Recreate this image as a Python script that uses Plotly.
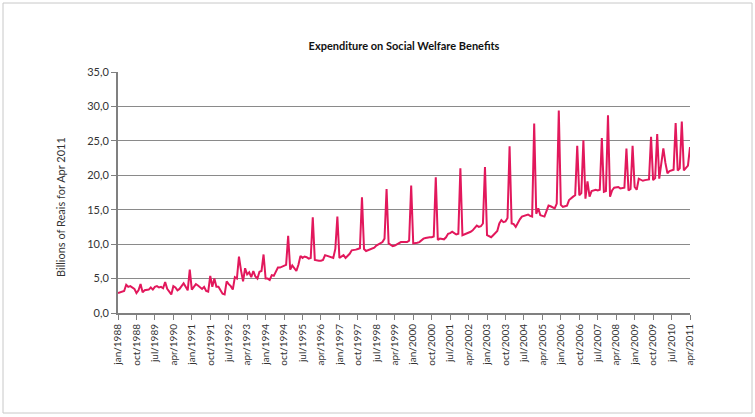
import plotly.graph_objects as go

month_names = ["jan", "feb", "mar", "apr", "may", "jun", "jul", "aug", "sep", "oct", "nov", "dec"]
years = list(range(1988, 2012))

v1988 = [2.9, 3.0, 3.1, 3.2, 4.1, 3.8, 3.9, 3.7, 3.5, 2.9, 3.3, 4.2]
v1989 = [3.0, 3.3, 3.4, 3.4, 3.7, 3.4, 3.8, 3.9, 3.7, 3.8, 3.6, 4.5]
v1990 = [3.5, 3.0, 2.7, 3.9, 3.7, 3.3, 3.5, 3.9, 4.3, 3.8, 3.3, 6.3]
v1991 = [3.4, 3.8, 4.2, 4.0, 3.8, 3.5, 3.8, 3.2, 3.1, 5.4, 3.8, 5.0]
v1992 = [3.8, 3.8, 3.3, 2.8, 2.7, 4.6, 4.2, 3.9, 3.4, 5.2, 5.0, 8.2]
v1993 = [6.2, 4.6, 6.5, 5.6, 5.9, 5.2, 6.1, 5.3, 5.0, 6.0, 6.1, 8.5]
v1994 = [5.0, 5.0, 4.8, 5.5, 5.4, 6.0, 6.6, 6.6, 6.7, 6.9, 7.0, 11.2]
v1995 = [6.3, 6.9, 6.5, 6.1, 7.0, 8.3, 8.0, 8.2, 8.1, 7.9, 8.0, 13.9]
v1996 = [7.7, 7.6, 7.6, 7.6, 7.7, 8.4, 8.3, 8.1, 8.0, 8.0, 9.3, 14.0]
v1997 = [8.0, 8.2, 8.4, 8.0, 8.3, 8.6, 9.1, 9.1, 9.2, 9.3, 9.4, 16.8]
v1998 = [9.3, 9.0, 9.1, 9.2, 9.3, 9.5, 9.8, 10.0, 10.2, 10.3, 10.8, 18.0]
v1999 = [10.1, 9.9, 9.7, 9.8, 10.0, 10.1, 10.3, 10.3, 10.3, 10.3, 10.5, 18.5]
v2000 = [10.1, 10.1, 10.2, 10.3, 10.6, 10.8, 10.9, 11.0, 11.0, 11.0, 11.1, 19.7]
v2001 = [10.6, 10.8, 10.8, 10.7, 11.0, 11.5, 11.6, 11.8, 11.6, 11.4, 11.5, 21.0]
v2002 = [11.3, 11.4, 11.5, 11.6, 11.8, 12.0, 12.4, 12.7, 12.5, 12.6, 13.0, 21.2]
v2003 = [11.3, 11.2, 11.0, 11.3, 11.6, 11.9, 13.0, 13.5, 13.2, 13.3, 13.8, 24.2]
v2004 = [13.0, 12.9, 12.5, 13.1, 13.6, 14.0, 14.1, 14.2, 14.3, 14.1, 14.0, 27.5]
v2005 = [14.4, 15.2, 14.2, 14.1, 14.0, 14.8, 15.6, 15.5, 15.4, 15.2, 15.9, 29.4]
v2006 = [15.7, 15.4, 15.5, 15.6, 16.4, 16.7, 16.9, 17.1, 24.3, 17.1, 17.4, 25.1]
v2007 = [16.6, 19.1, 16.9, 17.7, 17.8, 17.9, 17.8, 17.9, 25.4, 17.6, 17.7, 28.7]
v2008 = [16.9, 17.8, 18.2, 18.2, 18.3, 18.1, 18.1, 18.2, 23.9, 17.8, 18.0, 24.3]
v2009 = [18.3, 17.9, 19.5, 19.3, 19.2, 19.3, 19.3, 19.4, 25.6, 19.3, 19.6, 26.0]
v2010 = [19.5, 21.5, 23.9, 21.8, 20.3, 20.6, 20.7, 20.8, 27.6, 20.7, 21.0, 27.8]
v2011 = [20.7, 21.0, 21.4, 24.1]

values = (v1988 + v1989 + v1990 + v1991 + v1992 + v1993 + v1994 + v1995 + v1996
          + v1997 + v1998 + v1999 + v2000 + v2001 + v2002 + v2003 + v2004 + v2005
          + v2006 + v2007 + v2008 + v2009 + v2010 + v2011)

categories = [f"{m}/{y}" for y in years for m in month_names][:len(values)]
tick_labels = categories[::9]

y_tick_vals = [0, 5, 10, 15, 20, 25, 30, 35]
y_tick_text = ["0,0", "5,0", "10,0", "15,0", "20,0", "25,0", "30,0", "35,0"]

L, R, T, B = 118, 65, 72, 104
W, H = 755, 417
pw, ph = W - L - R, H - T - B

fig = go.Figure(go.Scatter(
    x=categories, y=values, mode="lines",
    line=dict(color="#E2185C", width=2),
    hoverinfo="x+y",
))

font_family = "Lato, 'Open Sans', sans-serif"

fig.update_layout(
    width=W, height=H,
    margin=dict(l=L, r=R, t=T, b=B),
    paper_bgcolor="white", plot_bgcolor="white",
    showlegend=False,
    font=dict(family=font_family, color="#333333"),
    title=dict(
        text="<b>Expenditure on Social Welfare Benefits</b>",
        x=0.5, xref="paper", xanchor="center",
        y=1 - 46 / H, yref="container", yanchor="middle",
        font=dict(family=font_family, size=11, color="#111111"),
    ),
    xaxis=dict(
        type="category", range=[0, len(values) - 1],
        tickmode="array", tickvals=tick_labels, ticktext=tick_labels,
        tickangle=-90, ticks="outside", ticklen=5, tickcolor="#808080", tickwidth=1,
        showline=True, linecolor="#808080", linewidth=2,
        showgrid=False, zeroline=False,
        tickfont=dict(family=font_family, size=10, color="#333333"),
    ),
    yaxis=dict(
        range=[0, 35], tickmode="array", tickvals=y_tick_vals, ticktext=y_tick_text,
        ticks="outside", ticklen=5, tickcolor="#808080", tickwidth=1,
        showline=True, linecolor="#808080", linewidth=2,
        showgrid=True, gridcolor="#8a8a8a", gridwidth=1, zeroline=False,
        tickfont=dict(family=font_family, size=11, color="#333333"),
    ),
    annotations=[dict(
        text="Billions of Reais for Apr 2011",
        x=(60 - L) / pw, y=(H - B - 207) / ph, xref="paper", yref="paper",
        xanchor="center", yanchor="middle", textangle=-90, showarrow=False,
        font=dict(family=font_family, size=11, color="#333333"),
    )],
    shapes=[dict(
        type="rect", xref="paper", yref="paper", layer="below",
        x0=(3 - L) / pw, x1=(752 - L) / pw,
        y0=(H - B - 413) / ph, y1=(H - B - 3) / ph,
        line=dict(color="#c8c8c8", width=1), fillcolor="rgba(0,0,0,0)",
    )],
)

fig.write_html("out.html")
